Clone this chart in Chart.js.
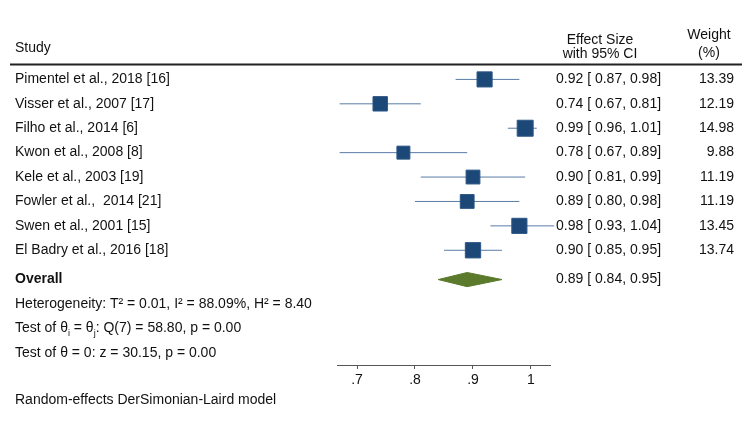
<!DOCTYPE html>
<html>
<head>
<meta charset="utf-8">
<script src="https://cdn.jsdelivr.net/npm/chart.js@4.4.1/dist/chart.umd.min.js"></script>
<style>
  html, body { margin: 0; padding: 0; background: #fff; }
  #wrap { position: relative; width: 750px; height: 424px; }
</style>
</head>
<body>
<div id="wrap"><canvas id="forest"></canvas></div>
<script>
const studies = [
  'Pimentel et al., 2018 [16]',
  'Visser et al., 2007 [17]',
  'Filho et al., 2014 [6]',
  'Kwon et al., 2008 [8]',
  'Kele et al., 2003 [19]',
  'Fowler et al.,  2014 [21]',
  'Swen et al., 2001 [15]',
  'El Badry et al., 2016 [18]'
];
const effects = [0.92, 0.74, 0.99, 0.78, 0.90, 0.89, 0.98, 0.90];
const ciLow = [0.87, 0.67, 0.96, 0.67, 0.81, 0.80, 0.93, 0.85];
const ciHigh = [0.98, 0.81, 1.01, 0.89, 0.99, 0.98, 1.04, 0.95];
const weights = [13.39, 12.19, 14.98, 9.88, 11.19, 11.19, 13.45, 13.74];
// overall estimate, lower, upper
const overall = [0.89, 0.84, 0.95];
const tickVals = [0.7, 0.8, 0.9, 1];
const tickLabels = ['.7', '.8', '.9', '1'];

const FAMILY = '"Liberation Sans", Arial, sans-serif';
const FONT = '14px ' + FAMILY;
const OVERALL_ROW = 8.2;

// CI segments, broken by NaN points
const ciPoints = [];
effects.forEach((e, i) => {
  ciPoints.push({ x: ciLow[i], y: i }, { x: ciHigh[i], y: i }, { x: NaN, y: NaN });
});

// diamond for the pooled estimate
const dh = 0.29;
const diamond = [
  { x: overall[1], y: OVERALL_ROW },
  { x: overall[0], y: OVERALL_ROW - dh },
  { x: overall[2], y: OVERALL_ROW },
  { x: overall[0], y: OVERALL_ROW + dh },
  { x: overall[1], y: OVERALL_ROW }
];

const fmt = v => v.toFixed(2);

const textPlugin = {
  id: 'forestText',
  afterDraw(chart) {
    const ctx = chart.ctx;
    const y = chart.scales.y;
    ctx.save();
    ctx.fillStyle = '#111';
    ctx.textBaseline = 'middle';
    ctx.font = FONT;

    // headers
    ctx.textAlign = 'left';
    ctx.fillText('Study', 15, 48);
    ctx.textAlign = 'center';
    ctx.fillText('Effect Size', 600, 40);
    ctx.fillText('with 95% CI', 600, 54);
    ctx.fillText('Weight', 709, 35);
    ctx.fillText('(%)', 709, 53);

    ctx.strokeStyle = '#222';
    ctx.lineWidth = 2;
    ctx.beginPath();
    ctx.moveTo(10, 64.5);
    ctx.lineTo(742, 64.5);
    ctx.stroke();

    // study rows
    studies.forEach((s, i) => {
      const py = y.getPixelForValue(i);
      ctx.textAlign = 'left';
      ctx.fillText(s, 15, py);
      ctx.fillText(fmt(effects[i]) + ' [ ' + fmt(ciLow[i]) + ', ' + fmt(ciHigh[i]) + ']', 556, py);
      ctx.textAlign = 'right';
      ctx.fillText(fmt(weights[i]), 734, py);
    });

    // overall row
    let py = y.getPixelForValue(OVERALL_ROW);
    ctx.textAlign = 'left';
    ctx.font = 'bold ' + FONT;
    ctx.fillText('Overall', 15, py);
    ctx.font = FONT;
    ctx.fillText(fmt(overall[0]) + ' [ ' + fmt(overall[1]) + ', ' + fmt(overall[2]) + ']', 556, py);

    // heterogeneity lines
    py = y.getPixelForValue(OVERALL_ROW + 1);
    ctx.fillText('Heterogeneity: T\u00B2 = 0.01, I\u00B2 = 88.09%, H\u00B2 = 8.40', 15, py);

    py = y.getPixelForValue(OVERALL_ROW + 2);
    let x = 15;
    const part = (t, small) => {
      if (small) {
        ctx.font = '9px ' + FAMILY;
        ctx.fillText(t, x, py + 5);
      } else {
        ctx.font = FONT;
        ctx.fillText(t, x, py);
      }
      x += ctx.measureText(t).width;
    };
    part('Test of \u03B8');
    part('i', true);
    part(' = \u03B8');
    part('j', true);
    part(': Q(7) = 58.80, p = 0.00');

    ctx.font = FONT;
    py = y.getPixelForValue(OVERALL_ROW + 3);
    ctx.fillText('Test of \u03B8 = 0: z = 30.15, p = 0.00', 15, py);

    py = y.getPixelForValue(OVERALL_ROW + 4.95);
    ctx.fillText('Random-effects DerSimonian-Laird model', 15, py);
    ctx.restore();
  }
};

new Chart(document.getElementById('forest'), {
  type: 'scatter',
  data: {
    datasets: [
      {
        type: 'line',
        data: ciPoints,
        borderColor: '#5a7ca6',
        borderWidth: 1,
        pointRadius: 0,
        spanGaps: false,
        clip: false,
        order: 3
      },
      {
        data: effects.map((e, i) => ({ x: e, y: i })),
        pointStyle: 'rect',
        pointRadius: weights.map(w => 2.92 * Math.sqrt(w)),
        backgroundColor: '#1c4878',
        borderColor: '#2c5686',
        borderWidth: 1,
        clip: false,
        order: 1
      },
      {
        type: 'line',
        data: diamond,
        borderColor: '#5b7a2c',
        backgroundColor: '#5b7a2c',
        borderWidth: 1,
        pointRadius: 0,
        fill: 'shape',
        clip: false,
        order: 2
      }
    ]
  },
  options: {
    responsive: true,
    maintainAspectRatio: false,
    animation: false,
    events: [],
    layout: { padding: { left: 337, right: 200, top: 55, bottom: 0 } },
    plugins: { legend: { display: false }, tooltip: { enabled: false } },
    scales: {
      x: {
        type: 'linear',
        min: 0.6655,
        max: 1.0328,
        afterBuildTicks: s => { s.ticks = tickVals.map(v => ({ value: v })); },
        afterFit: s => { s.height = 59; },
        ticks: {
          callback: (v) => tickLabels[tickVals.indexOf(v)],
          color: '#111',
          font: { family: FAMILY, size: 14 },
          padding: 3,
          maxRotation: 0,
          autoSkip: false
        },
        grid: { drawOnChartArea: false, drawTicks: true, tickLength: 4, color: '#555' },
        border: { display: true, color: '#555', width: 1 }
      },
      y: {
        type: 'linear',
        display: false,
        reverse: true,
        min: -1,
        max: 11.7
      }
    }
  },
  plugins: [textPlugin]
});
</script>
</body>
</html>
